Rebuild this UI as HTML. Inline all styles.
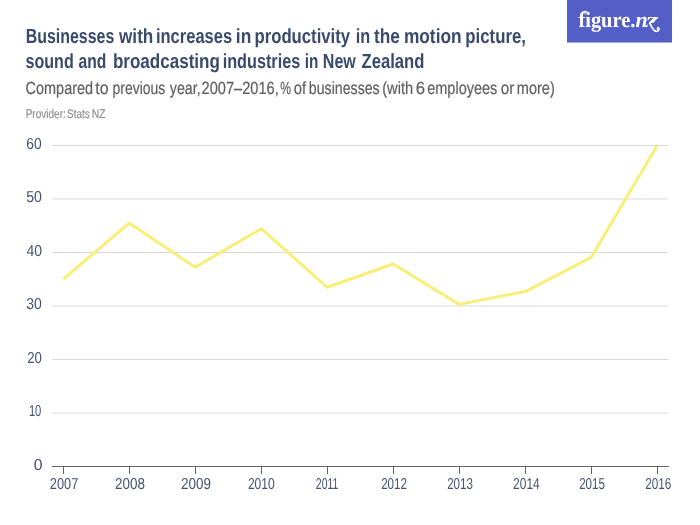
<!DOCTYPE html>
<html>
<head>
<meta charset="utf-8">
<style>
html,body{margin:0;padding:0;background:#fff;width:700px;height:525px;overflow:hidden}
svg{display:block;will-change:transform;text-rendering:geometricPrecision}
.t{font-family:"Liberation Sans",sans-serif;fill:#3b4a6c}
.ttl{font-size:20.5px;stroke:#3b4a6c;stroke-width:0px;font-weight:bold}
.sub{font-size:17.6px;fill:#5f5f5f;stroke:#5f5f5f;stroke-width:0.2px}
.prov{font-size:12.6px;fill:#8e8e8e;stroke:#8e8e8e;stroke-width:0.15px}
.ax{font-size:15.8px;fill:#44526f}
</style>
</head>
<body>
<svg width="700" height="525" viewBox="0 0 700 525">
<rect x="0" y="0" width="700" height="525" fill="#fff"/>
<!-- logo -->
<rect x="567" y="0" width="105" height="42.5" fill="#535fc7"/>
<clipPath id="zc"><rect x="567" y="0" width="80.5" height="43"/><rect x="647.5" y="0" width="25" height="23.1"/></clipPath>
<text fill="#fff" font-family="Liberation Serif,serif" font-weight="bold" font-size="22px" y="26.8" clip-path="url(#zc)"><tspan x="578.4" textLength="57" lengthAdjust="spacingAndGlyphs">figure.</tspan><tspan x="635.5" font-style="italic">n</tspan><tspan x="646.3" font-style="italic" textLength="12.2" lengthAdjust="spacingAndGlyphs">z</tspan></text>
<path d="M649.6,22.8 C651.3,26.5 653.5,31.2 656.2,31.4 C658.2,31.5 659.4,30 658.6,28.6" fill="none" stroke="#fff" stroke-width="1.7" stroke-linecap="round"/>
<circle cx="658.2" cy="28.4" r="1.4" fill="#fff"/>
<path d="M581.9,16.5 C581.9,12.6 583.3,11.4 585.2,11.4 C586.6,11.4 587.4,12.2 587.6,13" fill="none" stroke="#fff" stroke-width="1.1"/>

<!-- titles -->
<text class="t ttl" y="42.6"><tspan x="25.71" textLength="88.57" lengthAdjust="spacingAndGlyphs">Businesses</tspan> <tspan x="119.05" textLength="34.25" lengthAdjust="spacingAndGlyphs">with</tspan> <tspan x="155.97" textLength="76.10" lengthAdjust="spacingAndGlyphs">increases</tspan> <tspan x="235.86" textLength="15.39" lengthAdjust="spacingAndGlyphs">in</tspan> <tspan x="254.50" textLength="95.63" lengthAdjust="spacingAndGlyphs">productivity</tspan> <tspan x="355.78" textLength="14.44" lengthAdjust="spacingAndGlyphs">in</tspan> <tspan x="374.08" textLength="25.88" lengthAdjust="spacingAndGlyphs">the</tspan> <tspan x="403.89" textLength="57.75" lengthAdjust="spacingAndGlyphs">motion</tspan> <tspan x="465.34" textLength="60.57" lengthAdjust="spacingAndGlyphs">picture,</tspan></text>
<text class="t ttl" y="68.3"><tspan x="25.57" textLength="48.14" lengthAdjust="spacingAndGlyphs">sound</tspan> <tspan x="78.62" textLength="27.78" lengthAdjust="spacingAndGlyphs">and</tspan> <tspan x="112.88" textLength="106.99" lengthAdjust="spacingAndGlyphs">broadcasting</tspan> <tspan x="222.65" textLength="77.59" lengthAdjust="spacingAndGlyphs">industries</tspan> <tspan x="304.85" textLength="13.60" lengthAdjust="spacingAndGlyphs">in</tspan> <tspan x="322.85" textLength="33.00" lengthAdjust="spacingAndGlyphs">New</tspan> <tspan x="361.52" textLength="62.86" lengthAdjust="spacingAndGlyphs">Zealand</tspan></text>
<text class="t sub" y="93.5"><tspan x="25.61" textLength="67.46" lengthAdjust="spacingAndGlyphs">Compared</tspan> <tspan x="95.25" textLength="13.37" lengthAdjust="spacingAndGlyphs">to</tspan> <tspan x="112.52" textLength="52.82" lengthAdjust="spacingAndGlyphs">previous</tspan> <tspan x="169.83" textLength="30.80" lengthAdjust="spacingAndGlyphs">year,</tspan> <tspan x="201.62" textLength="77.18" lengthAdjust="spacingAndGlyphs">2007–2016,</tspan> <tspan x="280.23" textLength="10.74" lengthAdjust="spacingAndGlyphs">%</tspan> <tspan x="293.74" textLength="12.41" lengthAdjust="spacingAndGlyphs">of</tspan> <tspan x="308.86" textLength="70.82" lengthAdjust="spacingAndGlyphs">businesses</tspan> <tspan x="382.23" textLength="31.02" lengthAdjust="spacingAndGlyphs">(with</tspan> <tspan x="415.66" textLength="9.34" lengthAdjust="spacingAndGlyphs">6</tspan> <tspan x="427.20" textLength="70.15" lengthAdjust="spacingAndGlyphs">employees</tspan> <tspan x="500.66" textLength="13.60" lengthAdjust="spacingAndGlyphs">or</tspan> <tspan x="516.78" textLength="37.97" lengthAdjust="spacingAndGlyphs">more)</tspan></text>
<text class="t prov" y="117.7"><tspan x="25.68" textLength="40.10" lengthAdjust="spacingAndGlyphs">Provider:</tspan> <tspan x="67.06" textLength="22.60" lengthAdjust="spacingAndGlyphs">Stats</tspan> <tspan x="91.82" textLength="13.76" lengthAdjust="spacingAndGlyphs">NZ</tspan></text>
<!-- /titles -->

<!-- grid -->
<g stroke="#d9d9d9" stroke-width="1">
<line x1="52" y1="145.5" x2="668.2" y2="145.5"/>
<line x1="52" y1="199" x2="668.2" y2="199"/>
<line x1="52" y1="252.5" x2="668.2" y2="252.5"/>
<line x1="52" y1="306" x2="668.2" y2="306"/>
<line x1="52" y1="359.5" x2="668.2" y2="359.5"/>
<line x1="52" y1="413" x2="668.2" y2="413"/>
</g>
<!-- axis -->
<g stroke="#666" stroke-width="1">
<line x1="52" y1="466.5" x2="669" y2="466.5"/>
<line x1="63.5" y1="466.5" x2="63.5" y2="474"/>
<line x1="129.5" y1="466.5" x2="129.5" y2="474"/>
<line x1="195.5" y1="466.5" x2="195.5" y2="474"/>
<line x1="261.5" y1="466.5" x2="261.5" y2="474"/>
<line x1="327.5" y1="466.5" x2="327.5" y2="474"/>
<line x1="393.5" y1="466.5" x2="393.5" y2="474"/>
<line x1="459.5" y1="466.5" x2="459.5" y2="474"/>
<line x1="525.5" y1="466.5" x2="525.5" y2="474"/>
<line x1="591.5" y1="466.5" x2="591.5" y2="474"/>
<line x1="657.5" y1="466.5" x2="657.5" y2="474"/>
</g>
<!-- labels -->
<g class="t ax">
<text x="49.77" y="488.6" textLength="28.53" lengthAdjust="spacingAndGlyphs">2007</text>
<text x="115.03" y="488.6" textLength="29.89" lengthAdjust="spacingAndGlyphs">2008</text>
<text x="181.03" y="488.6" textLength="29.93" lengthAdjust="spacingAndGlyphs">2009</text>
<text x="247.92" y="488.6" textLength="26.83" lengthAdjust="spacingAndGlyphs">2010</text>
<text x="315.87" y="488.6" textLength="22.46" lengthAdjust="spacingAndGlyphs">2011</text>
<text x="381.16" y="488.6" textLength="25.77" lengthAdjust="spacingAndGlyphs">2012</text>
<text x="447.16" y="488.6" textLength="25.81" lengthAdjust="spacingAndGlyphs">2013</text>
<text x="513.10" y="488.6" textLength="26.62" lengthAdjust="spacingAndGlyphs">2014</text>
<text x="579.16" y="488.6" textLength="25.73" lengthAdjust="spacingAndGlyphs">2015</text>
<text x="645.15" y="488.6" textLength="26.15" lengthAdjust="spacingAndGlyphs">2016</text>
<text x="26.32" y="148.6" textLength="15.39" lengthAdjust="spacingAndGlyphs">60</text>
<text x="26.17" y="202.1" textLength="15.74" lengthAdjust="spacingAndGlyphs">50</text>
<text x="26.39" y="255.6" textLength="15.62" lengthAdjust="spacingAndGlyphs">40</text>
<text x="26.30" y="309.1" textLength="15.57" lengthAdjust="spacingAndGlyphs">30</text>
<text x="27.22" y="362.6" textLength="14.71" lengthAdjust="spacingAndGlyphs">20</text>
<text x="28.88" y="416.1" textLength="12.50" lengthAdjust="spacingAndGlyphs">10</text>
<text x="33.67" y="469.6" textLength="8.77" lengthAdjust="spacingAndGlyphs">0</text>
</g>
<!-- /labels -->
<!-- data line -->
<polyline fill="none" stroke="#f9ef78" stroke-width="3" stroke-linejoin="round" points="63.2,279.25 129.2,223.08 195.2,267.21 261.2,228.69 327.2,287.27 393.2,264.00 459.2,304.39 525.2,291.56 591.2,257.31 657.2,145.50"/>
</svg>
</body>
</html>
